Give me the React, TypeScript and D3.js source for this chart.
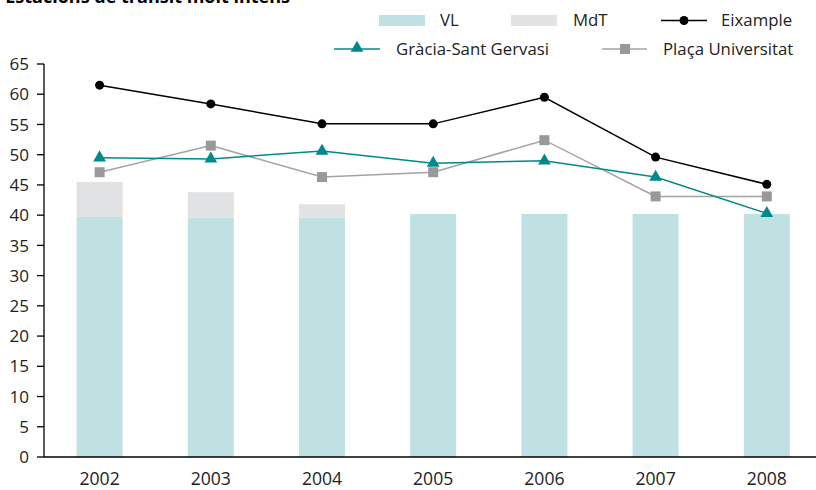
import React from "react";
import * as d3 from "d3";

const years = ["2002", "2003", "2004", "2005", "2006", "2007", "2008"];
const vl = [39.7, 39.6, 39.6, 40.2, 40.2, 40.2, 40.2];
const mdt = [5.8, 4.2, 2.2, 0, 0, 0, 0];
const eixample = [61.5, 58.4, 55.1, 55.1, 59.5, 49.6, 45.1];
const gracia = [49.5, 49.3, 50.6, 48.6, 49.0, 46.3, 40.3];
const placa = [47.1, 51.5, 46.3, 47.1, 52.4, 43.1, 43.1];
const yTicks = [0, 5, 10, 15, 20, 25, 30, 35, 40, 45, 50, 55, 60, 65];

const W = 816, H = 490;
const FONT = "'Open Sans', 'Noto Sans', sans-serif";
const FS = 16.8;
const C_VL = "#bfe1e1", C_MDT = "#e1e2e4", C_EIX = "#000000", C_GRA = "#00898a", C_PLA = "#a3a3a3", C_PLA_M = "#999999";

export default function App() {
  const x = d3.scalePoint<string>().domain(years).range([44, 44 + 7 * 111.2]).padding(0.5);
  const y = d3.scaleLinear().domain([0, 65]).range([457, 64]);
  const barW = 46;
  const line = (vals: number[]) =>
    d3.line<number>().x((_, i) => x(years[i])!).y((v) => y(v))(vals)!;
  const tri = d3.symbol().type(d3.symbolTriangle).size(70)()!;

  return (
    <svg width={W} height={H} style={{ position: "absolute", left: 0, top: 0 }} fontFamily={FONT}>
      <text x={290} y={3} textAnchor="end" fontWeight="bold" fontSize={18} fill="#000">Estacions de trànsit molt intens</text>

      {/* bars */}
      {years.map((yr, i) => (
        <g key={yr}>
          <rect x={x(yr)! - barW / 2} y={y(vl[i])} width={barW} height={y(0) - y(vl[i])} fill={C_VL} />
          {mdt[i] > 0 && (
            <rect x={x(yr)! - barW / 2} y={y(vl[i] + mdt[i])} width={barW} height={y(vl[i]) - y(vl[i] + mdt[i])} fill={C_MDT} />
          )}
        </g>
      ))}

      {/* axes */}
      <line x1={44} x2={816} y1={y(0)} y2={y(0)} stroke="#000" strokeWidth={1.3} />
      <line x1={44} x2={44} y1={y(65)} y2={y(0)} stroke="#000" strokeWidth={1.3} />
      {yTicks.map((t) => (
        <g key={t}>
          <line x1={37} x2={44} y1={y(t)} y2={y(t)} stroke="#000" strokeWidth={1.3} />
          <text x={29} y={y(t)} dy="0.36em" textAnchor="end" fontSize={17} fill="#222">{t}</text>
        </g>
      ))}
      {years.map((yr) => (
        <text key={yr} x={x(yr)!} y={485} textAnchor="middle" fontSize={17.6} fill="#222">{yr}</text>
      ))}

      {/* lines */}
      <path d={line(placa)} fill="none" stroke={C_PLA} strokeWidth={1.5} />
      <path d={line(gracia)} fill="none" stroke={C_GRA} strokeWidth={1.5} />
      <path d={line(eixample)} fill="none" stroke={C_EIX} strokeWidth={1.5} />
      {placa.map((v, i) => (
        <rect key={"p" + i} x={x(years[i])! - 5} y={y(v) - 5} width={10} height={10} fill={C_PLA_M} />
      ))}
      {gracia.map((v, i) => (
        <path key={"g" + i} d={tri} transform={`translate(${x(years[i])},${y(v)})`} fill={C_GRA} />
      ))}
      {eixample.map((v, i) => (
        <circle key={"e" + i} cx={x(years[i])!} cy={y(v)} r={4.5} fill={C_EIX} />
      ))}

      {/* legend */}
      <rect x={379} y={15} width={46} height={11} fill={C_VL} />
      <text x={440} y={20.5} dy="0.35em" fontSize={FS} fill="#222">VL</text>
      <rect x={511} y={15} width={46} height={11} fill={C_MDT} />
      <text x={573} y={20.5} dy="0.35em" fontSize={FS} fill="#222">MdT</text>
      <line x1={661} x2={707} y1={20.5} y2={20.5} stroke={C_EIX} strokeWidth={1.5} />
      <circle cx={684} cy={20.5} r={4.5} fill={C_EIX} />
      <text x={721} y={20.5} dy="0.35em" fontSize={FS} fill="#222">Eixample</text>

      <line x1={334} x2={380} y1={49} y2={49} stroke={C_GRA} strokeWidth={1.5} />
      <path d={tri} transform="translate(357,48)" fill={C_GRA} />
      <text x={396} y={49} dy="0.35em" fontSize={FS} fill="#222">Gràcia-Sant Gervasi</text>
      <line x1={602} x2={647} y1={49} y2={49} stroke={C_PLA} strokeWidth={1.5} />
      <rect x={620} y={44} width={10} height={10} fill={C_PLA_M} />
      <text x={663} y={49} dy="0.35em" fontSize={FS} fill="#222">Plaça Universitat</text>
    </svg>
  );
}
